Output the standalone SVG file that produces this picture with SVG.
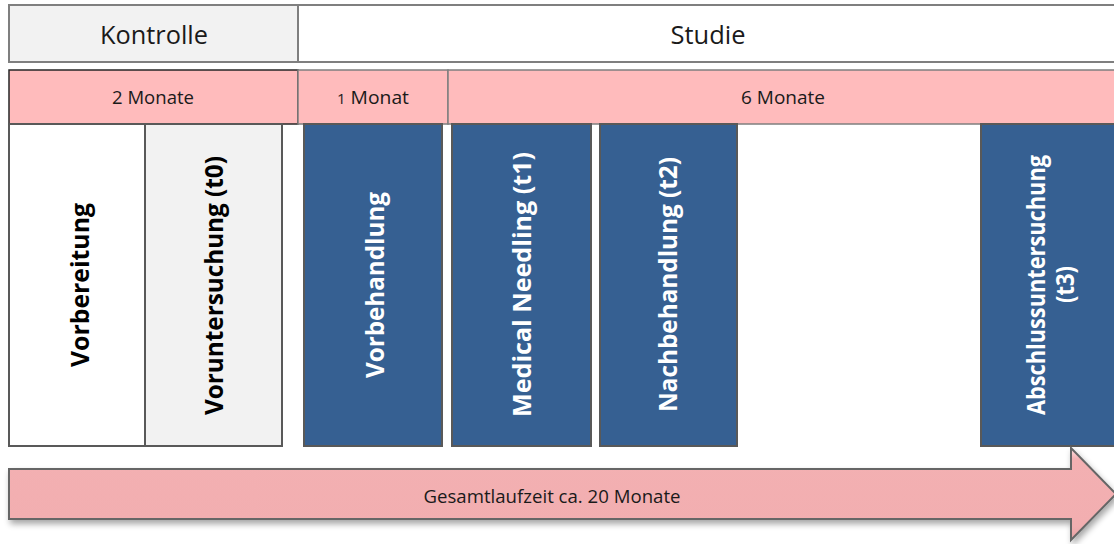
<svg xmlns="http://www.w3.org/2000/svg" width="1114" height="544" viewBox="0 0 1114 544">
<style>
.hdr{stroke:#7f7f7f;stroke-width:2}
.mon{fill:#ffbbbc;stroke:#7f7f7f;stroke-width:1.5}
.col{stroke:#595959;stroke-width:2}
.blue{fill:#366092}
.t{font-family:"Open Sans","Noto Sans",sans-serif;text-anchor:middle;fill:#1a1a1a}
.v{font-family:"Open Sans","Noto Sans",sans-serif;font-weight:bold;font-size:25px;text-anchor:middle}
</style>
<defs>
<linearGradient id="ag" x1="0" y1="0" x2="0" y2="1">
<stop offset="0" stop-color="#fde3e4"/>
<stop offset="0.12" stop-color="#f3b0b2"/>
<stop offset="0.85" stop-color="#f2aeb0"/>
<stop offset="1" stop-color="#e4a3a5"/>
</linearGradient>
<filter id="sh" x="-5%" y="-20%" width="110%" height="150%">
<feGaussianBlur in="SourceAlpha" stdDeviation="3"/>
<feOffset dx="2" dy="4"/>
<feComponentTransfer><feFuncA type="linear" slope="0.35"/></feComponentTransfer>
<feMerge><feMergeNode/><feMergeNode in="SourceGraphic"/></feMerge>
</filter>
</defs>
<g id="kontrolle">
<rect class="hdr" x="9" y="5" width="289" height="57" fill="#f2f2f2"/>
<text class="t" x="154" y="44" font-size="26" textLength="108" lengthAdjust="spacingAndGlyphs">Kontrolle</text>
</g>
<g id="studie">
<rect class="hdr" x="298" y="5" width="830" height="57" fill="#ffffff"/>
<text class="t" x="708" y="44" font-size="26" textLength="75" lengthAdjust="spacingAndGlyphs">Studie</text>
</g>
<g id="m2">
<rect class="mon" x="9" y="70" width="289" height="54" style="stroke:#262626"/>
<text class="t" x="153" y="104" font-size="18" textLength="82" lengthAdjust="spacingAndGlyphs">2 Monate</text>
</g>
<g id="m1">
<rect class="mon" x="298" y="70" width="150" height="54"/>
<text class="t" x="373" y="104" font-size="18" textLength="72" lengthAdjust="spacingAndGlyphs"><tspan font-size="14">1</tspan> Monat</text>
</g>
<g id="m6">
<rect class="mon" x="448" y="70" width="680" height="54"/>
<text class="t" x="783" y="104" font-size="18" textLength="84" lengthAdjust="spacingAndGlyphs">6 Monate</text>
</g>
<g id="vorbereitung">
<rect class="col" x="9" y="124" width="136" height="322" fill="#ffffff"/>
<text class="v" transform="translate(89,285) rotate(-90)" textLength="164" lengthAdjust="spacingAndGlyphs">Vorbereitung</text>
</g>
<g id="voruntersuchung">
<rect class="col" x="145" y="124" width="137" height="322" fill="#f2f2f2"/>
<text class="v" transform="translate(223,285.5) rotate(-90)" textLength="259" lengthAdjust="spacingAndGlyphs">Voruntersuchung (t0)</text>
</g>
<g id="vorbehandlung">
<rect class="col blue" x="304" y="124" width="138" height="322"/>
<text class="v" fill="#ffffff" transform="translate(384,285) rotate(-90)" textLength="186" lengthAdjust="spacingAndGlyphs">Vorbehandlung</text>
</g>
<g id="needling">
<rect class="col blue" x="452" y="124" width="139" height="322"/>
<text class="v" fill="#ffffff" transform="translate(531,284.5) rotate(-90)" textLength="265" lengthAdjust="spacingAndGlyphs">Medical Needling  (t1)</text>
</g>
<g id="nachbehandlung">
<rect class="col blue" x="600" y="124" width="137" height="322"/>
<text class="v" fill="#ffffff" transform="translate(677,284.5) rotate(-90)" textLength="255" lengthAdjust="spacingAndGlyphs">Nachbehandlung (t2)</text>
</g>
<g id="abschluss">
<rect class="col blue" x="981" y="124" width="150" height="322"/>
<text class="v" fill="#ffffff" transform="translate(1045,285) rotate(-90)" textLength="260" lengthAdjust="spacingAndGlyphs">Abschlussuntersuchung</text>
<text class="v" fill="#ffffff" transform="translate(1074,284.5) rotate(-90)" textLength="37" lengthAdjust="spacingAndGlyphs">(t3)</text>
</g>
<g id="connectors">
<g id="gesamt" filter="url(#sh)">
<path d="M9,469 H1071 V448 L1116,494 L1071,540 V519 H9 Z" fill="url(#ag)" stroke="#666666" stroke-width="2"/>
</g>
<text class="t" x="552" y="503" font-size="19" textLength="257" lengthAdjust="spacingAndGlyphs">Gesamtlaufzeit ca. 20 Monate</text>
</g>
</svg>
